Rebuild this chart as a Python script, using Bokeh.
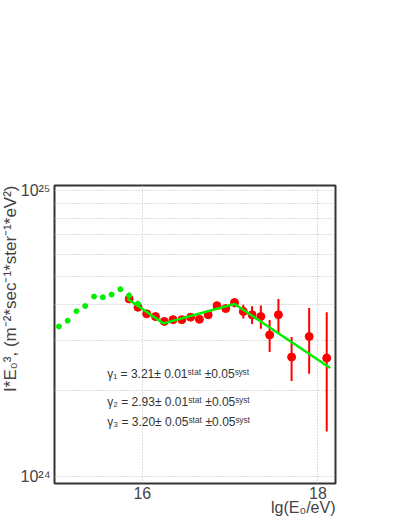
from bokeh.plotting import figure
from bokeh.models import FixedTicker, Label, ColumnDataSource, Title
from bokeh.embed import file_html
from bokeh.resources import INLINE

UNIT = 1e24

# green (low-energy) data set
green_lgE = [15.05, 15.15, 15.25, 15.35, 15.45, 15.55, 15.65, 15.75, 15.85, 15.95]
green_flux = [3.35, 3.51, 3.79, 3.95, 4.26, 4.24, 4.33, 4.52, 4.30, 4.02]
green_err = [0.03, 0.03, 0.03, 0.04, 0.04, 0.05, 0.05, 0.07, 0.10, 0.10]

# red (high-energy) data set
red_lgE = [15.85, 15.95, 16.05, 16.15, 16.25, 16.35, 16.45, 16.55, 16.65, 16.75,
           16.85, 16.95, 17.05, 17.15, 17.25, 17.35, 17.45, 17.55, 17.70, 17.90, 18.10]
red_flux = [4.18, 3.91, 3.71, 3.63, 3.49, 3.54, 3.54, 3.61, 3.55, 3.68,
            3.96, 3.87, 4.06, 3.78, 3.68, 3.63, 3.13, 3.68, 2.62, 3.09, 2.60]
red_err = [0.06, 0.06, 0.05, 0.05, 0.05, 0.05, 0.06, 0.07, 0.10, 0.08,
           0.08, 0.10, 0.15, 0.21, 0.26, 0.34, 0.40, 0.50, 0.46, 0.80, 1.16]

# broken power-law fit
fit_lgE = [15.83, 16.24, 17.05, 18.14]
fit_flux = [4.185, 3.436, 4.017, 2.40]

x_ticks = [16, 18]
y_major = [1e24, 1e25]
y_minor = [2e24, 3e24, 4e24, 5e24, 6e24, 7e24, 8e24, 9e24]
y_labels = {1e24: "10²⁴", 1e25: "10²⁵"}

fit_texts = [
    "γ₁ = 3.21± 0.01ˢᵗᵃᵗ ±0.05ˢʸˢᵗ",
    "γ₂ = 2.93± 0.01ˢᵗᵃᵗ ±0.05ˢʸˢᵗ",
    "γ₃ = 3.20± 0.05ˢᵗᵃᵗ ±0.05ˢʸˢᵗ",
]
fit_text_y = [2.29e24, 1.83e24, 1.55e24]

x_title = "lg(E₀/eV)"
y_title = "I*E₀³, (m⁻²*sec⁻¹*ster⁻¹*eV²)"

FONT = "Liberation Sans"
GRAY = "#444444"

p = figure(frame_width=281, frame_height=298, x_range=(15.0, 18.2), y_range=(9.48e23, 1.041e25),
           y_axis_type="log", output_backend="svg", toolbar_location=None,
           min_border_left=54, min_border_right=67, min_border_top=185, min_border_bottom=37)
p.background_fill_color = "white"
p.border_fill_color = "white"
p.outline_line_color = "#333333"
p.outline_line_width = 2

p.xaxis.ticker = FixedTicker(ticks=x_ticks)
p.yaxis.ticker = FixedTicker(ticks=y_major, minor_ticks=y_minor)
p.yaxis.major_label_overrides = y_labels
for ax in (p.xaxis, p.yaxis):
    ax.axis_line_color = None
    ax.major_tick_in = 0
    ax.major_tick_out = 0
    ax.minor_tick_in = 0
    ax.minor_tick_out = 0
    ax.major_label_text_font = FONT
    ax.major_label_text_font_size = "16px"
    ax.major_label_text_color = GRAY
p.xaxis.major_label_standoff = 3
p.yaxis.major_label_standoff = 4

p.xgrid.grid_line_color = "#bbbbbb"
p.xgrid.grid_line_dash = "1 2"
p.ygrid.grid_line_color = "#bbbbbb"
p.ygrid.grid_line_dash = "1 2"
p.ygrid.minor_grid_line_color = "#bbbbbb"
p.ygrid.minor_grid_line_dash = "1 2"

red = ColumnDataSource(dict(
    x=red_lgE,
    y=[v * UNIT for v in red_flux],
    lo=[(v - e) * UNIT for v, e in zip(red_flux, red_err)],
    hi=[(v + e) * UNIT for v, e in zip(red_flux, red_err)],
))
green = ColumnDataSource(dict(
    x=green_lgE,
    y=[v * UNIT for v in green_flux],
    lo=[(v - e) * UNIT for v, e in zip(green_flux, green_err)],
    hi=[(v + e) * UNIT for v, e in zip(green_flux, green_err)],
))

p.segment(x0="x", y0="lo", x1="x", y1="hi", source=red, line_color="#ff0000", line_width=2)
p.scatter(x="x", y="y", source=red, size=8, fill_color="#ff0000", line_color="#ff0000")
p.segment(x0="x", y0="lo", x1="x", y1="hi", source=green, line_color="#00f000", line_width=2)
p.scatter(x="x", y="y", source=green, size=5, fill_color="#00f000", line_color="#00f000")
p.line(x=fit_lgE, y=[v * UNIT for v in fit_flux], line_color="#00f000", line_width=2.5)

for t, yy in zip(fit_texts, fit_text_y):
    p.add_layout(Label(x=15.60, y=yy, text=t, text_font=FONT, text_font_size="12px",
                       text_color="#333333", text_baseline="middle", text_align="left"))

p.add_layout(Title(text=x_title, align="right", text_font=FONT, text_font_size="16px",
                   text_font_style="normal", text_color=GRAY, standoff=-9), "below")
p.add_layout(Title(text=y_title, align="right", text_font=FONT, text_font_size="17px",
                   text_font_style="normal", text_color=GRAY, standoff=-5), "left")

open("out.html", "w").write(file_html(p, INLINE))
